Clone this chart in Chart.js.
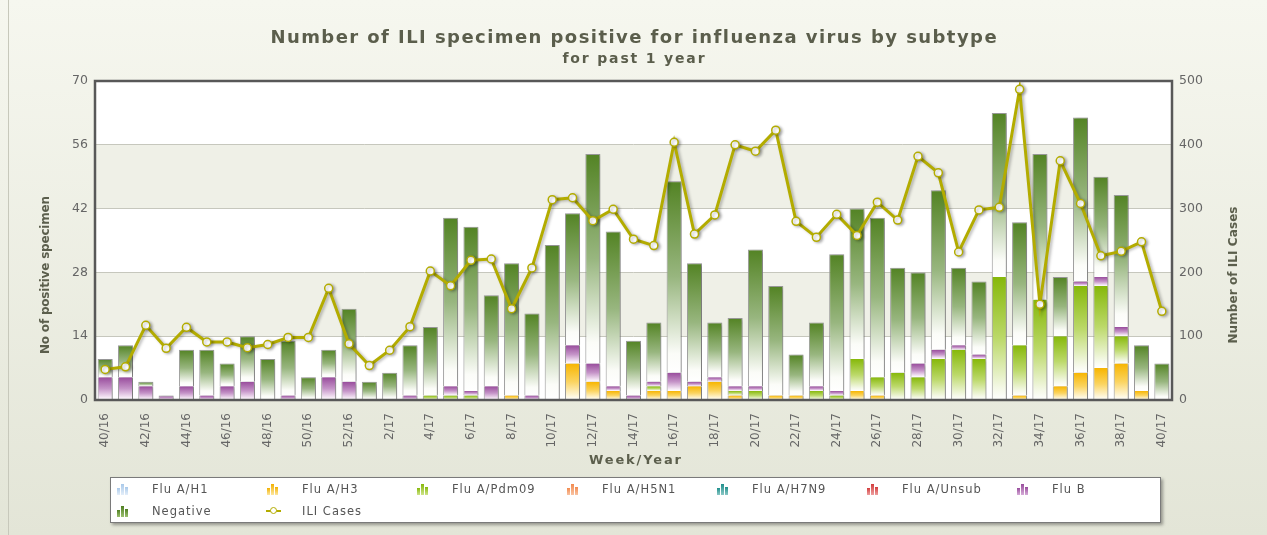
<!DOCTYPE html>
<html>
<head>
<meta charset="utf-8">
<script src="https://cdn.jsdelivr.net/npm/chart.js@4.4.1/dist/chart.umd.min.js"></script>
<style>
html,body{margin:0;padding:0;}
body{width:1267px;height:535px;overflow:hidden;position:relative;background:linear-gradient(#f6f7ef,#e3e5d7);font-family:"DejaVu Sans",Verdana,sans-serif;}
#frame{position:absolute;left:8px;top:0;bottom:0;border-left:1px solid #c7c8bb;}
#wrap{position:absolute;left:0;top:0;width:1267px;height:535px;}
.title{position:absolute;left:0;width:1267px;text-align:center;color:#5b5e4c;font-weight:bold;white-space:nowrap;}
#t1{top:26px;font-size:18px;line-height:22px;}
#t2{top:50px;font-size:14px;line-height:16px;}
#legend{position:absolute;left:110px;top:477px;width:1049px;height:44px;background:#fff;border:1px solid #7a7a7a;box-shadow:2px 2px 3px rgba(0,0,0,.35);}
.item{position:absolute;height:14px;font-size:11.5px;line-height:14px;color:#555;white-space:nowrap;letter-spacing:1px;}
.item .ico{position:absolute;left:0;top:0;width:16px;height:14px;}
.item .ico i{position:absolute;bottom:1px;width:3px;}
.item .txt{position:absolute;left:36px;top:0;}
</style>
</head>
<body>
<div id="frame"></div>
<div id="wrap"><canvas id="c"></canvas></div>
<div class="title" id="t1">Number of ILI specimen positive for influenza virus by subtype</div>
<div class="title" id="t2">for past 1 year</div>
<div id="legend"></div>
<script>
const weeks = ['40/16','41/16','42/16','43/16','44/16','45/16','46/16','47/16','48/16','49/16','50/16','51/16','52/16',
  '1/17','2/17','3/17','4/17','5/17','6/17','7/17','8/17','9/17','10/17','11/17','12/17','13/17','14/17','15/17','16/17',
  '17/17','18/17','19/17','20/17','21/17','22/17','23/17','24/17','25/17','26/17','27/17','28/17','29/17','30/17','31/17',
  '32/17','33/17','34/17','35/17','36/17','37/17','38/17','39/17','40/17'];

const fluAH1    = [0,0,0,0,0,0,0,0,0,0,0,0,0,0,0,0,0,0,0,0,0,0,0,0,0,0,0,0,0,0,0,0,0,0,0,0,0,0,0,0,0,0,0,0,0,0,0,0,0,0,0,0,0];
const fluAH3    = [0,0,0,0,0,0,0,0,0,0,0,0,0,0,0,0,0,0,0,0,1,0,0,8,4,2,0,2,2,3,4,1,0,1,1,0,0,2,1,0,0,0,0,0,0,1,0,3,6,7,8,2,0];
const fluAPdm09 = [0,0,0,0,0,0,0,0,0,0,0,0,0,0,0,0,1,1,1,0,0,0,0,0,0,0,0,1,0,0,0,1,2,0,0,2,1,7,4,6,5,9,11,9,27,11,22,11,19,18,6,0,0];
const fluAH5N1  = [0,0,0,0,0,0,0,0,0,0,0,0,0,0,0,0,0,0,0,0,0,0,0,0,0,0,0,0,0,0,0,0,0,0,0,0,0,0,0,0,0,0,0,0,0,0,0,0,0,0,0,0,0];
const fluAH7N9  = [0,0,0,0,0,0,0,0,0,0,0,0,0,0,0,0,0,0,0,0,0,0,0,0,0,0,0,0,0,0,0,0,0,0,0,0,0,0,0,0,0,0,0,0,0,0,0,0,0,0,0,0,0];
const fluAUnsub = [0,0,0,0,0,0,0,0,0,0,0,0,0,0,0,0,0,0,0,0,0,0,0,0,0,0,0,0,0,0,0,0,0,0,0,0,0,0,0,0,0,0,0,0,0,0,0,0,0,0,0,0,0];
const fluB      = [5,5,3,1,3,1,3,4,0,1,0,5,4,0,0,1,0,2,1,3,0,1,0,4,4,1,1,1,4,1,1,1,1,0,0,1,1,0,0,0,3,2,1,1,0,0,0,0,1,2,2,0,0];
const negative  = [4,7,1,0,8,10,5,10,9,12,5,6,16,4,6,11,15,37,36,20,29,18,34,29,46,34,12,13,42,26,12,15,30,24,9,14,30,33,35,23,20,35,17,16,36,27,32,13,36,22,29,10,8];
const iliCases  = [48,52,117,81,114,91,91,82,87,98,98,175,88,54,78,115,202,179,219,221,143,207,314,317,281,299,252,242,404,260,290,400,390,423,280,255,291,258,310,282,382,356,232,298,302,487,150,375,308,226,233,248,139];

const leftTicks = [0,14,28,42,56,70];
const rightTicks = [0,100,200,300,400,500];

const barSeries = [
  {label:'Flu A/H1',    data:fluAH1,    top:'#a9c9ea', mid:'#cfe1f3', bottom:'#f2f7fc'},
  {label:'Flu A/H3',    data:fluAH3,    top:'#f7b500', mid:'#fbd460', bottom:'#fff8e0'},
  {label:'Flu A/Pdm09', data:fluAPdm09, top:'#86b80a', mid:'#bcd96a', bottom:'#f4f8e6'},
  {label:'Flu A/H5N1',  data:fluAH5N1,  top:'#f28a4e', mid:'#f7b58e', bottom:'#fdebe0'},
  {label:'Flu A/H7N9',  data:fluAH7N9,  top:'#1f8f8c', mid:'#78bdbb', bottom:'#dcefef'},
  {label:'Flu A/Unsub', data:fluAUnsub, top:'#d23c3c', mid:'#e68b8b', bottom:'#f9e0e0'},
  {label:'Flu B',       data:fluB,      top:'#984c9c', mid:'#c594c8', bottom:'#f7ecf7'},
  {label:'Negative',    data:negative,  top:'#538324', mid:'#98b67f', bottom:'#fbfcf8'}
];

function segGradient(c, d) {
  const s = barSeries[d];
  const chart = c.chart, ys = chart.scales.y;
  if (c.type !== 'data' || !chart.chartArea || !ys) return s.top;
  const i = c.dataIndex;
  let base = 0;
  for (let k = 0; k < d; k++) base += barSeries[k].data[i];
  const v = s.data[i];
  if (!v) return s.top;
  const y0 = ys.getPixelForValue(base + v), y1 = ys.getPixelForValue(base);
  const g = chart.ctx.createLinearGradient(0, y0, 0, y1);
  g.addColorStop(0, s.top);
  g.addColorStop(0.5, s.mid);
  g.addColorStop(0.9, s.bottom);
  g.addColorStop(1, '#ffffff');
  return g;
}
function segBorder(c, d) {
  if (c.type !== 'data') return 0;
  const i = c.dataIndex;
  let isTop = true;
  for (let k = d + 1; k < barSeries.length; k++) if (barSeries[k].data[i]) isTop = false;
  return {left:1, right:1, top:isTop ? 1 : 0, bottom:0};
}

const datasets = barSeries.map((s, d) => ({
  type:'bar', label:s.label, data:s.data.map(v => v === 0 ? null : v),
  yAxisID:'y', stack:'s', order:1,
  backgroundColor:(c) => segGradient(c, d),
  borderColor:'#9a9a9a', borderWidth:(c) => segBorder(c, d), borderSkipped:false,
  barPercentage:0.74, categoryPercentage:1
}));
datasets.push({
  type:'line', label:'ILI Cases', data:iliCases, yAxisID:'y1', order:0,
  borderColor:'#b3ac00', borderWidth:3, tension:0,
  pointRadius:4, pointHoverRadius:4, pointBackgroundColor:'#ffffff', pointBorderColor:'#b3ac00', pointBorderWidth:1.5
});

const shadowPlugin = {
  id:'shadow',
  beforeDatasetsDraw(chart){ const ctx = chart.ctx; ctx.save(); ctx.shadowColor='rgba(0,0,0,0.28)'; ctx.shadowBlur=3; ctx.shadowOffsetX=2; ctx.shadowOffsetY=1; },
  afterDatasetsDraw(chart){ chart.ctx.restore(); }
};
const bandPlugin = {
  id:'bands',
  beforeDraw(chart){
    const {ctx, chartArea:a, scales:{y}} = chart;
    ctx.save();
    ctx.fillStyle = '#ffffff';
    ctx.fillRect(a.left, a.top, a.width, a.height);
    ctx.fillStyle = '#eff0e7';
    for (let k = 1; k < leftTicks.length - 1; k += 2) {
      const yt = y.getPixelForValue(leftTicks[k + 1]), yb = y.getPixelForValue(leftTicks[k]);
      ctx.fillRect(a.left, yt, a.width, yb - yt);
    }
    ctx.restore();
  }
};
const framePlugin = {
  id:'frame',
  afterDatasetsDraw(chart){
    const {ctx, chartArea:a} = chart;
    ctx.save();
    ctx.strokeStyle = '#585858';
    ctx.lineWidth = 2.5;
    ctx.strokeRect(a.left, a.top, a.width, a.height);
    ctx.restore();
  }
};
function drawSpaced(ctx, text, cx, cy, rot, target) {
  ctx.save();
  ctx.letterSpacing = '0px';
  const w = ctx.measureText(text).width;
  const ls = (target - w) / (text.length - 1);
  ctx.letterSpacing = ls + 'px';
  ctx.translate(cx, cy);
  ctx.rotate(rot);
  ctx.textAlign = 'left';
  ctx.textBaseline = 'middle';
  ctx.fillText(text, -target / 2, 0);
  ctx.restore();
}
const axisTitlePlugin = {
  id:'axisTitles',
  afterDraw(chart){
    const ctx = chart.ctx;
    ctx.save();
    ctx.fillStyle = '#5b5e4c';
    ctx.font = 'bold 13px "DejaVu Sans", Verdana, sans-serif';
    drawSpaced(ctx, 'Week/Year', 635, 461, 0, 92);
    ctx.font = 'bold 12px "DejaVu Sans", Verdana, sans-serif';
    drawSpaced(ctx, 'No of positive specimen', 45.5, 275, -Math.PI / 2, 158);
    drawSpaced(ctx, 'Number of ILI Cases', 1233.5, 275, -Math.PI / 2, 137);
    ctx.restore();
  }
};

const tickFont = {family:'"DejaVu Sans", Verdana, sans-serif', size:12};

new Chart(document.getElementById('c'), {
  data:{labels:weeks, datasets},
  options:{
    responsive:true, maintainAspectRatio:false, animation:false,
    layout:{padding:{top:81, bottom:65, left:0, right:0}},
    plugins:{legend:{display:false}, tooltip:{enabled:false}, title:{display:false}},
    scales:{
      x:{
        stacked:true, offset:true,
        grid:{display:false}, border:{display:false},
        ticks:{autoSkip:false, maxRotation:90, minRotation:90, padding:5, color:'#666', font:tickFont,
          callback:(v, i) => (i % 2 === 0 ? weeks[i] : '')},
        title:{display:false, text:'Week/Year'},
        afterFit:(s) => { s.height = 70; }
      },
      y:{
        stacked:true, position:'left', min:0, max:70,
        afterBuildTicks:(s) => { s.ticks = leftTicks.map(v => ({value:v})); },
        grid:{color:'#c6c7bd', lineWidth:1, drawTicks:false}, border:{display:false},
        ticks:{padding:7, color:'#666', font:{family:tickFont.family, size:12.5}},
        title:{display:false, text:'No of positive specimen'},
        afterFit:(s) => { s.width = 95; }
      },
      y1:{
        position:'right', min:0, max:500,
        afterBuildTicks:(s) => { s.ticks = rightTicks.map(v => ({value:v})); },
        grid:{display:false, drawTicks:false}, border:{display:false},
        ticks:{padding:7, color:'#666', font:{family:tickFont.family, size:12.5}},
        title:{display:false, text:'Number of ILI Cases'},
        afterFit:(s) => { s.width = 95; }
      }
    }
  },
  plugins:[shadowPlugin, bandPlugin, framePlugin, axisTitlePlugin]
});

// HTML legend
const legendItems = [
  {label:'Flu A/H1', color:'#a9c9ea', light:'#e4eef9'},
  {label:'Flu A/H3', color:'#f2b000', light:'#fde7a0'},
  {label:'Flu A/Pdm09', color:'#86b80a', light:'#cfe48a'},
  {label:'Flu A/H5N1', color:'#f28a4e', light:'#f9c4a4'},
  {label:'Flu A/H7N9', color:'#1f8f8c', light:'#8cc8c6'},
  {label:'Flu A/Unsub', color:'#d23c3c', light:'#eea0a0'},
  {label:'Flu B', color:'#984c9c', light:'#d6acd8'},
  {label:'Negative', color:'#4f7f22', light:'#9cc070'},
  {label:'ILI Cases', line:true}
];
const lg = document.getElementById('legend');
legendItems.forEach((it, k) => {
  const col = k < 7 ? k : k - 7, row = k < 7 ? 0 : 1;
  const el = document.createElement('div');
  el.className = 'item';
  el.style.left = (5 + col * 150) + 'px';
  el.style.top = (4 + row * 22) + 'px';
  const ico = document.createElement('span');
  ico.className = 'ico';
  if (it.line) {
    ico.innerHTML = '<span style="position:absolute;left:0;top:6px;width:15px;height:2px;background:#b3ac00"></span>' +
      '<span style="position:absolute;left:4px;top:3px;width:5px;height:5px;border-radius:50%;background:#fff;border:1.5px solid #b3ac00"></span>';
  } else {
    [[1,7],[5,11],[9,8]].forEach(([x, h]) => {
      const b = document.createElement('i');
      b.style.left = x + 'px'; b.style.height = h + 'px';
      b.style.background = 'linear-gradient(' + it.color + ',' + it.light + ')';
      ico.appendChild(b);
    });
  }
  const tx = document.createElement('span');
  tx.className = 'txt';
  tx.textContent = it.label;
  el.appendChild(ico); el.appendChild(tx);
  lg.appendChild(el);
});

// fit title widths to reference
function fit(id, target) {
  const el = document.getElementById(id);
  const span = document.createElement('span');
  span.style.cssText = 'position:absolute;visibility:hidden;white-space:nowrap;font-weight:bold;font-size:' + getComputedStyle(el).fontSize + ';font-family:' + getComputedStyle(el).fontFamily;
  span.textContent = el.textContent;
  document.body.appendChild(span);
  const w = span.getBoundingClientRect().width;
  span.remove();
  const n = el.textContent.length;
  el.style.letterSpacing = ((target - w) / n) + 'px';
  el.style.textIndent = ((target - w) / n) + 'px';
}
fit('t1', 727);
fit('t2', 144);
</script>
</body>
</html>
